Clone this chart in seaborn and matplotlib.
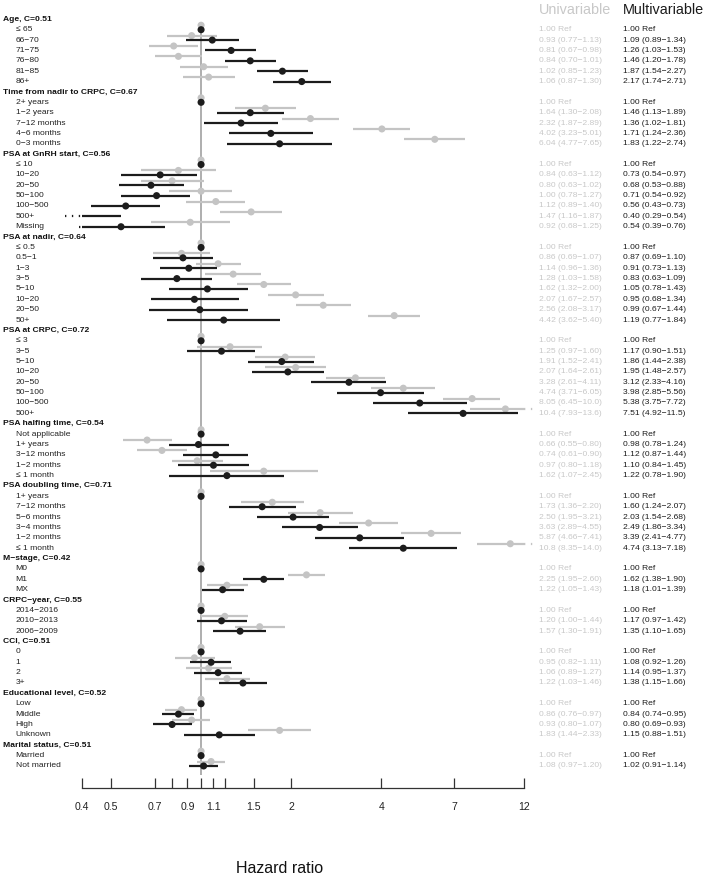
import numpy as np
import pandas as pd
import matplotlib
matplotlib.use("Agg")
import matplotlib.pyplot as plt
import matplotlib.transforms as mtransforms
import seaborn as sns

# ── Data ────────────────────────────────────────────────────────────────────

headers = [
    "Age, C=0.51", "Time from nadir to CRPC, C=0.67", "PSA at GnRH start, C=0.56",
    "PSA at nadir, C=0.64", "PSA at CRPC, C=0.72", "PSA halfing time, C=0.54",
    "PSA doubling time, C=0.71", "M\u2212stage, C=0.42", "CRPC\u2212year, C=0.55",
    "CCI, C=0.51", "Educational level, C=0.52", "Marital status, C=0.51",
]
levels = [
    ["\u2264 65", "66\u221270", "71\u221275", "76\u221280", "81\u221285", "86+"],
    ["2+ years", "1\u22122 years", "7\u221212 months", "4\u22126 months", "0\u22123 months"],
    ["\u2264 10", "10\u221220", "20\u221250", "50\u2212100", "100\u2212500", "500+", "Missing"],
    ["\u2264 0.5", "0.5\u22121", "1\u22123", "3\u22125", "5\u221210", "10\u221220", "20\u221250", "50+"],
    ["\u2264 3", "3\u22125", "5\u221210", "10\u221220", "20\u221250", "50\u2212100", "100\u2212500", "500+"],
    ["Not applicable", "1+ years", "3\u221212 months", "1\u22122 months", "\u2264 1 month"],
    ["1+ years", "7\u221212 months", "5\u22126 months", "3\u22124 months", "1\u22122 months", "\u2264 1 month"],
    ["M0", "M1", "MX"],
    ["2014\u22122016", "2010\u22122013", "2006\u22122009"],
    ["0", "1", "2", "3+"],
    ["Low", "Middle", "High", "Unknown"],
    ["Married", "Not married"],
]

# univariable HR (first level of each group is the reference)
uni_hr = [1, 0.93, 0.81, 0.84, 1.02, 1.06,
          1, 1.64, 2.32, 4.02, 6.04,
          1, 0.84, 0.80, 1.00, 1.12, 1.47, 0.92,
          1, 0.86, 1.14, 1.28, 1.62, 2.07, 2.56, 4.42,
          1, 1.25, 1.91, 2.07, 3.28, 4.74, 8.05, 10.4,
          1, 0.66, 0.74, 0.97, 1.62,
          1, 1.73, 2.50, 3.63, 5.87, 10.8,
          1, 2.25, 1.22,
          1, 1.20, 1.57,
          1, 0.95, 1.06, 1.22,
          1, 0.86, 0.93, 1.83,
          1, 1.08]
uni_lo = [1, 0.77, 0.67, 0.70, 0.85, 0.87,
          1, 1.30, 1.87, 3.23, 4.77,
          1, 0.63, 0.63, 0.78, 0.89, 1.16, 0.68,
          1, 0.69, 0.96, 1.03, 1.32, 1.67, 2.08, 3.62,
          1, 0.97, 1.52, 1.64, 2.61, 3.71, 6.45, 7.93,
          1, 0.55, 0.61, 0.80, 1.07,
          1, 1.36, 1.95, 2.89, 4.66, 8.35,
          1, 1.95, 1.05,
          1, 1.00, 1.30,
          1, 0.82, 0.89, 1.03,
          1, 0.76, 0.80, 1.44,
          1, 0.97]
uni_hi = [1, 1.13, 0.98, 1.01, 1.23, 1.30,
          1, 2.08, 2.89, 5.01, 7.65,
          1, 1.12, 1.02, 1.27, 1.40, 1.87, 1.25,
          1, 1.07, 1.36, 1.58, 2.00, 2.57, 3.17, 5.40,
          1, 1.60, 2.41, 2.61, 4.11, 6.05, 10.0, 13.6,
          1, 0.80, 0.90, 1.18, 2.45,
          1, 2.20, 3.21, 4.55, 7.41, 14.0,
          1, 2.60, 1.43,
          1, 1.44, 1.91,
          1, 1.11, 1.27, 1.46,
          1, 0.97, 1.07, 2.33,
          1, 1.20]

# multivariable HR
multi_hr = [1, 1.09, 1.26, 1.46, 1.87, 2.17,
            1, 1.46, 1.36, 1.71, 1.83,
            1, 0.73, 0.68, 0.71, 0.56, 0.40, 0.54,
            1, 0.87, 0.91, 0.83, 1.05, 0.95, 0.99, 1.19,
            1, 1.17, 1.86, 1.95, 3.12, 3.98, 5.38, 7.51,
            1, 0.98, 1.12, 1.10, 1.22,
            1, 1.60, 2.03, 2.49, 3.39, 4.74,
            1, 1.62, 1.18,
            1, 1.17, 1.35,
            1, 1.08, 1.14, 1.38,
            1, 0.84, 0.80, 1.15,
            1, 1.02]
multi_lo = [1, 0.89, 1.03, 1.20, 1.54, 1.74,
            1, 1.13, 1.02, 1.24, 1.22,
            1, 0.54, 0.53, 0.54, 0.43, 0.29, 0.39,
            1, 0.69, 0.73, 0.63, 0.78, 0.68, 0.67, 0.77,
            1, 0.90, 1.44, 1.48, 2.33, 2.85, 3.75, 4.92,
            1, 0.78, 0.87, 0.84, 0.78,
            1, 1.24, 1.54, 1.86, 2.41, 3.13,
            1, 1.38, 1.01,
            1, 0.97, 1.10,
            1, 0.92, 0.95, 1.15,
            1, 0.74, 0.69, 0.88,
            1, 0.91]
multi_hi = [1, 1.34, 1.53, 1.78, 2.27, 2.71,
            1, 1.89, 1.81, 2.36, 2.74,
            1, 0.97, 0.88, 0.92, 0.73, 0.54, 0.76,
            1, 1.10, 1.13, 1.09, 1.43, 1.34, 1.44, 1.84,
            1, 1.51, 2.38, 2.57, 4.16, 5.56, 7.72, 11.5,
            1, 1.24, 1.44, 1.45, 1.90,
            1, 2.07, 2.68, 3.34, 4.77, 7.18,
            1, 1.90, 1.39,
            1, 1.42, 1.65,
            1, 1.26, 1.37, 1.66,
            1, 0.95, 0.93, 1.51,
            1, 1.14]

x_ticks = [0.4, 0.5, 0.7, 0.8, 0.9, 1, 1.1, 1.2, 1.5, 2, 4, 7, 12]
x_ticklabels = ["0.4", "0.5", "0.7", "", "0.9", "", "1.1", "", "1.5", "2", "4", "7", "12"]

# ── Styling ─────────────────────────────────────────────────────────────────

GRAY = "#c4c4c4"
GRAY_TXT = "#c8c8c8"
BLACK = "#1c1c1c"
REF = "#a8a8a8"
XMIN, XMAX = 0.4, 12

sns.set_theme(style="white")
plt.rcParams["font.family"] = ["Liberation Sans", "DejaVu Sans"]

W, H = 709, 878
fig = plt.figure(figsize=(W / 100, H / 100), dpi=100)

ROW0, ROWH = 19.3, 10.37        # pixel y of row 0 and row height
ax_top_px, ax_bot_px = 14.0, 789.0
ax = fig.add_axes([82 / W, 1 - ax_bot_px / H, (524 - 82) / W, (ax_bot_px - ax_top_px) / H])
ax.set_xscale("log")
ax.set_xlim(XMIN, XMAX)
ax.set_ylim((ax_bot_px - ROW0) / ROWH, (ax_top_px - ROW0) / ROWH)

# ── Build row table ─────────────────────────────────────────────────────────

rows = []
r = 0
k = 0
for g, lv in zip(headers, levels):
    rows.append(dict(row=r, label=g, header=True, ref=False))
    r += 1
    for i, name in enumerate(lv):
        rows.append(dict(row=r, label=name, header=False, ref=(i == 0),
                         uhr=uni_hr[k], ulo=uni_lo[k], uhi=uni_hi[k],
                         mhr=multi_hr[k], mlo=multi_lo[k], mhi=multi_hi[k]))
        r += 1
        k += 1
df = pd.DataFrame(rows)
df["header"] = df["header"].astype(bool)
df["ref"] = df["ref"].astype(bool)
lv_df = df[~df["header"]].copy()
lv_df["uy"] = lv_df["row"] - 0.33
lv_df["my"] = lv_df["row"] + 0.1

# reference line
ax.vlines(1, 0.55, (776 - ROW0) / ROWH, color=REF, lw=1.3, zorder=1)


def draw_ci(y, lo, hi, color, z):
    a, b = max(lo, XMIN), min(hi, XMAX)
    ax.plot([a, b], [y, y], color=color, lw=1.6, solid_capstyle="butt", zorder=z)
    if lo < XMIN:
        ax.plot([max(lo, 0.35), XMIN], [y, y], color=color, lw=1.6,
                ls=(0, (0.6, 2.5)), clip_on=False, zorder=z)
    if hi > XMAX:
        ax.plot([XMAX, min(hi, 13.0)], [y, y], color=color, lw=1.6,
                ls=(0, (0.6, 2.5)), clip_on=False, zorder=z)


for _, rw in lv_df[~lv_df["ref"]].iterrows():
    draw_ci(rw["uy"], rw["ulo"], rw["uhi"], GRAY, 2)
    draw_ci(rw["my"], rw["mlo"], rw["mhi"], BLACK, 4)

u_pts = lv_df[(lv_df["uhr"] > XMIN) & (lv_df["uhr"] < XMAX)]
m_pts = lv_df[(lv_df["mhr"] > XMIN + 1e-9) & (lv_df["mhr"] < XMAX)]
sns.scatterplot(data=u_pts, x="uhr", y="uy", ax=ax, color=GRAY, s=26,
                edgecolor="none", zorder=3, clip_on=False, legend=False)
sns.scatterplot(data=m_pts, x="mhr", y="my", ax=ax, color=BLACK, s=26,
                edgecolor="none", zorder=5, clip_on=False, legend=False)

# ── Axis ────────────────────────────────────────────────────────────────────

ax.set_xticks(x_ticks)
ax.set_xticklabels(x_ticklabels)
ax.xaxis.set_minor_locator(matplotlib.ticker.NullLocator())
ax.tick_params(axis="x", direction="in", length=7, width=0.9, color="#333333",
               labelsize=7.6, pad=9, labelcolor="#222222", bottom=True)
ax.set_yticks([])
ax.set_xlabel("")
ax.set_ylabel("")
for s in ["top", "left", "right"]:
    ax.spines[s].set_visible(False)
ax.spines["bottom"].set_color("#333333")
ax.spines["bottom"].set_linewidth(0.9)
ax.set_facecolor("none")

# ── Texts ───────────────────────────────────────────────────────────────────

trans = mtransforms.blended_transform_factory(fig.transFigure, ax.transData)
FS = 6.1


def fmt(v):
    return f"{v:.1f}" if v >= 10 else f"{v:.2f}"


for _, rw in df.iterrows():
    if rw["header"]:
        ax.text(2.7 / W, rw["row"], rw["label"], transform=trans, fontsize=FS,
                fontweight="bold", va="center", ha="left", color="#111111")
        continue
    ax.text(15.7 / W, rw["row"], rw["label"], transform=trans, fontsize=FS,
            va="center", ha="left", color="#222222")
    if rw["ref"]:
        ut, mt = "1.00 Ref", "1.00 Ref"
    else:
        ut = f"{fmt(rw['uhr'])} ({fmt(rw['ulo'])}\u2212{fmt(rw['uhi'])})"
        mt = f"{fmt(rw['mhr'])} ({fmt(rw['mlo'])}\u2212{fmt(rw['mhi'])})"
    ax.text(539 / W, rw["row"], ut, transform=trans, fontsize=FS,
            va="center", ha="left", color=GRAY_TXT)
    ax.text(623 / W, rw["row"], mt, transform=trans, fontsize=FS,
            va="center", ha="left", color=BLACK)

fig.text(539 / W, 1 - 9.5 / H, "Univariable", fontsize=10.4, color=GRAY_TXT,
         va="center", ha="left")
fig.text(623 / W, 1 - 9.5 / H, "Multivariable", fontsize=10.4, color=BLACK,
         va="center", ha="left")
fig.text(280 / W, 1 - 869 / H, "Hazard ratio", fontsize=11.5, color="#111111",
         va="center", ha="center")

fig.savefig("out.png", dpi=100, facecolor="white")
